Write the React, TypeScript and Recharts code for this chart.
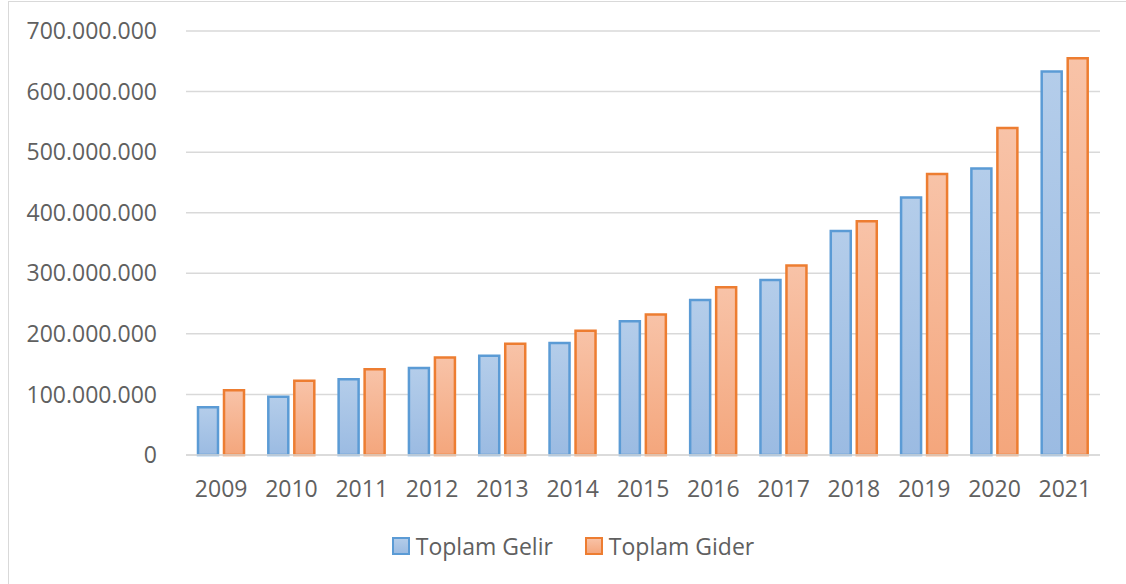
import React from 'react';
import { BarChart, Bar, XAxis, YAxis, CartesianGrid, Legend } from 'recharts';

const years = ['2009', '2010', '2011', '2012', '2013', '2014', '2015', '2016', '2017', '2018', '2019', '2020', '2021'];
const gelir = [79000000, 96000000, 125000000, 143500000, 164000000, 185000000, 221000000, 256000000, 289000000, 370000000, 425000000, 473000000, 633000000];
const gider = [107000000, 122500000, 141500000, 161000000, 183500000, 205000000, 232000000, 277000000, 313000000, 386000000, 464000000, 540000000, 655000000];
const yTicks = [0, 100000000, 200000000, 300000000, 400000000, 500000000, 600000000, 700000000];
const seriesNames = ['Toplam Gelir', 'Toplam Gider'];

const data = years.map((y, i) => ({ year: y, gelir: gelir[i], gider: gider[i] }));

const fmt = (v: number) => String(v).replace(/\B(?=(\d{3})+(?!\d))/g, '.');

const FONT = '"Open Sans", sans-serif';
const TXT = '#606060';
const FS = 23;

const legendItems = [
  { name: seriesNames[0], stroke: '#5b9bd5' },
  { name: seriesNames[1], stroke: '#ed7d31' },
];

const LegendContent = () => (
  <div style={{ display: 'flex', justifyContent: 'center', alignItems: 'center', height: 30, fontFamily: FONT, fontSize: FS, color: TXT }}>
    {legendItems.map((it, i) => (
      <div key={it.name} style={{ display: 'flex', alignItems: 'center', marginLeft: i === 0 ? 0 : 32 }}>
        <svg width={18} height={18} style={{ marginRight: 6 }}>
          <defs>
            <linearGradient id={`lg${i}`} x1="0" y1="0" x2="0" y2="1">
              <stop offset="0%" stopColor={i === 0 ? '#b4cdea' : '#f8c3a8'} />
              <stop offset="100%" stopColor={i === 0 ? '#9bbbe2' : '#f4a67c'} />
            </linearGradient>
          </defs>
          <rect x={1} y={1} width={16} height={16} fill={`url(#lg${i})`} stroke={it.stroke} strokeWidth={2} />
        </svg>
        <span>{it.name}</span>
      </div>
    ))}
  </div>
);

export default function App() {
  return (
    <div style={{ position: 'absolute', left: 0, top: 0, width: 1126, height: 584, overflow: 'hidden', background: '#fff' }}>
      <div style={{ position: 'absolute', left: 8, top: 1, width: 1140, height: 620, border: '1px solid #d9d9d9', boxSizing: 'border-box' }} />
      <div style={{ position: 'absolute', left: 0, top: 0 }}>
        <BarChart
          width={1126}
          height={584}
          data={data}
          margin={{ top: 31, right: 26, left: 0, bottom: 39 }}
          barSize={20}
          barGap={6}
        >
          <defs>
            <linearGradient id="gBlue" x1="0" y1="0" x2="0" y2="1">
              <stop offset="0%" stopColor="#b4cdea" />
              <stop offset="100%" stopColor="#9bbbe2" />
            </linearGradient>
            <linearGradient id="gOrange" x1="0" y1="0" x2="0" y2="1">
              <stop offset="0%" stopColor="#f8c3a8" />
              <stop offset="100%" stopColor="#f4a67c" />
            </linearGradient>
          </defs>
          <CartesianGrid vertical={false} stroke="#d9d9d9" strokeWidth={1.5} />
          <XAxis
            dataKey="year"
            height={60}
            tickLine={false}
            tickSize={0}
            tickMargin={26}
            axisLine={{ stroke: '#d9d9d9', strokeWidth: 1.5 }}
            tick={{ fill: TXT, fontSize: FS, fontFamily: FONT }}
            interval={0}
          />
          <YAxis
            width={186}
            domain={[0, 700000000]}
            ticks={yTicks}
            tickFormatter={fmt}
            axisLine={false}
            tickLine={false}
            tickSize={0}
            tickMargin={29}
            tick={{ fill: TXT, fontSize: FS, fontFamily: FONT }}
            interval={0}
          />
          <Legend verticalAlign="bottom" content={<LegendContent />} wrapperStyle={{ bottom: 23, left: 20, width: 1106 }} />
          <Bar dataKey="gelir" name={seriesNames[0]} fill="url(#gBlue)" stroke="#5b9bd5" strokeWidth={2.5} isAnimationActive={false} />
          <Bar dataKey="gider" name={seriesNames[1]} fill="url(#gOrange)" stroke="#ed7d31" strokeWidth={2.5} isAnimationActive={false} />
        </BarChart>
      </div>
    </div>
  );
}
